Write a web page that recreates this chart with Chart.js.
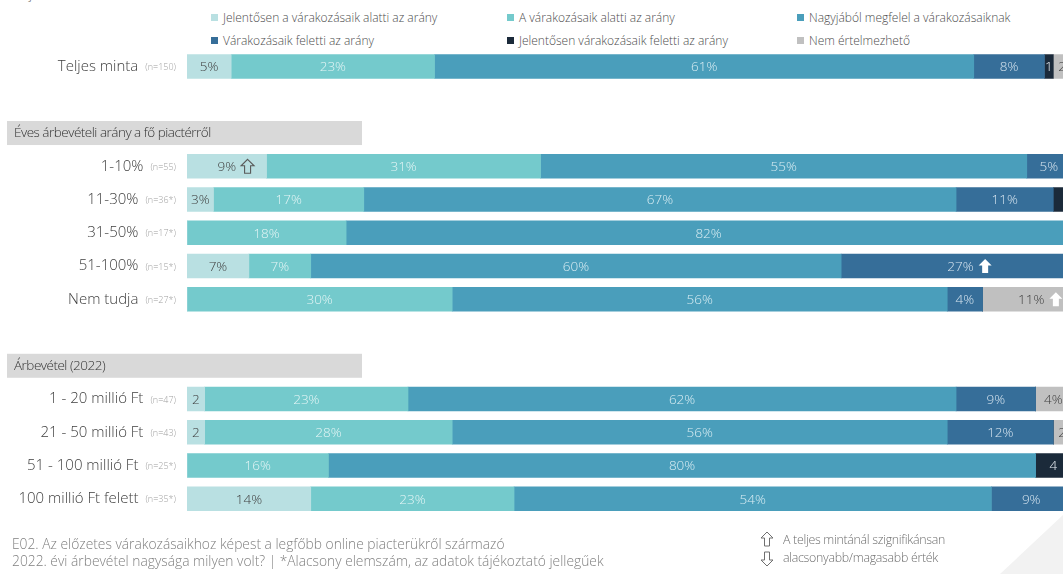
<!DOCTYPE html>
<html lang="hu">
<head>
<meta charset="utf-8">
<script src="https://cdn.jsdelivr.net/npm/chart.js@4/dist/chart.umd.min.js"></script>
<style>
  html, body { margin: 0; padding: 0; background: #fff; }
  body { position: relative; width: 1063px; height: 574px; overflow: hidden; font-family: "Open Sans", sans-serif; font-weight: 300; color: #404040; }
  #chart { position: absolute; left: 0; top: 0; }
  .legend-item { position: absolute; font-size: 12px; color: #4d4d4d; white-space: nowrap; line-height: 16px; transform: translateY(-8px); }
  .legend-item i { display: inline-block; width: 7px; height: 7px; margin-right: 5px; vertical-align: 1px; }
  .cut-title { position: absolute; left: 13px; top: -15px; font-size: 13px; color: #595959; letter-spacing: -0.3px; }
  .note { position: absolute; font-size: 13.8px; color: #808080; white-space: nowrap; line-height: 17px; }
  .sig { position: absolute; left: 760px; top: 531px; font-size: 12.4px; color: #6f6f6f; line-height: 18px; letter-spacing: -0.3px; }
  .sig svg { position: absolute; left: 0; }
  .sig span { display: block; padding-left: 23px; white-space: nowrap; }
  .corner { position: absolute; left: 1000px; top: 515px; width: 63px; height: 59px; background: #f2f2f2; clip-path: polygon(100% 0, 100% 100%, 0 100%); }
</style>
</head>
<body>
<div class="corner"></div>
<div class="cut-title">Teljes minta</div>
<div id="legend"></div>
<canvas id="chart" width="1080" height="574"></canvas>
<div class="note" style="left:12px; top:535px;">E02. Az előzetes várakozásaikhoz képest a legfőbb online piacterükről származó<br>2022. évi árbevétel nagysága milyen volt? | *Alacsony elemszám, az adatok tájékoztató jellegűek</div>
<div class="sig">
  <svg width="14" height="36" viewBox="0 0 14 36">
    <path d="M7 1 L13 7 L9.5 7 L9.5 15 L4.5 15 L4.5 7 L1 7 Z" fill="none" stroke="#6f6f6f" stroke-width="1"/>
    <path d="M7 35 L13 29 L9.5 29 L9.5 21 L4.5 21 L4.5 29 L1 29 Z" fill="none" stroke="#6f6f6f" stroke-width="1"/>
  </svg>
  <span>A teljes mintánál szignifikánsan</span>
  <span>alacsonyabb/magasabb érték</span>
</div>

<script>
// Rows of the chart, top to bottom; empty strings are spacer rows
const categories = ['Teljes minta', '', 'Éves árbevételi arány a fő piactérről',
  '1-10%', '11-30%', '31-50%', '51-100%', 'Nem tudja', '', 'Árbevétel (2022)',
  '1 - 20 millió Ft', '21 - 50 millió Ft', '51 - 100 millió Ft', '100 millió Ft felett'];
const sampleSizes = ['(n=150)', '', '', '(n=55)', '(n=36*)', '(n=17*)', '(n=15*)', '(n=27*)', '', '',
  '(n=47)', '(n=43)', '(n=25*)', '(n=35*)'];
const sectionTitles = ['Éves árbevételi arány a fő piactérről', 'Árbevétel (2022)'];

const seriesNames = ['Jelentősen a várakozásaik alatti az arány', 'A várakozásaik alatti az arány',
  'Nagyjából megfelel a várakozásaiknak', 'Várakozásaik feletti az arány',
  'Jelentősen várakozásaik feletti az arány', 'Nem értelmezhető'];

const jelentosenAlatti  = [5, null, null, 9, 3, 0, 7, 0, null, null, 2, 2, 0, 14];
const alatti            = [23, null, null, 31, 17, 18, 7, 30, null, null, 23, 28, 16, 23];
const megfelel          = [61, null, null, 55, 67, 82, 60, 56, null, null, 62, 56, 80, 54];
const feletti           = [8, null, null, 5, 11, 0, 27, 4, null, null, 9, 12, 0, 9];
const jelentosenFeletti = [1, null, null, 0, 3, 0, 0, 0, null, null, 0, 0, 4, 0];
const nemErtelmezheto   = [2, null, null, 0, 0, 0, 0, 11, null, null, 4, 2, 0, 0];

// significantly higher / lower than the full sample
const sigMarks = [
  { row: '1-10%', series: 0, solid: false },
  { row: '51-100%', series: 3, solid: true },
  { row: 'Nem tudja', series: 5, solid: true },
];

const colors     = ['#b9e0e2', '#74cacc', '#4a9ebb', '#366e99', '#1b2a3a', '#c0c0c0'];
const textColors = ['#404040', '#e4f5f5', '#d9edf3', '#d6e4ef', '#e8eef4', '#404040'];
const values = [jelentosenAlatti, alatti, megfelel, feletti, jelentosenFeletti, nemErtelmezheto];
const FONT = '"Open Sans"';

// legend (three columns, two rows)
const legendCols = [211, 507, 797], legendRows = [18, 41];
document.getElementById('legend').innerHTML = seriesNames.map((name, i) =>
  `<div class="legend-item" style="left:${legendCols[i % 3]}px; top:${legendRows[Math.floor(i / 3)]}px">` +
  `<i style="background:${colors[i]}"></i>${name}</div>`).join('');

function drawArrow(ctx, x, cy, solid) {
  ctx.beginPath();
  ctx.moveTo(x + 6.5, cy - 7);
  ctx.lineTo(x + 13, cy - 0.5);
  ctx.lineTo(x + 9.5, cy - 0.5);
  ctx.lineTo(x + 9.5, cy + 7);
  ctx.lineTo(x + 3.5, cy + 7);
  ctx.lineTo(x + 3.5, cy - 0.5);
  ctx.lineTo(x, cy - 0.5);
  ctx.closePath();
  if (solid) {
    ctx.fillStyle = '#ffffff';
    ctx.fill();
  } else {
    ctx.strokeStyle = '#595959';
    ctx.lineWidth = 1.1;
    ctx.stroke();
  }
}

// ── row labels, section headers and value labels ──────────────────────────
const decorPlugin = {
  id: 'decor',
  afterDatasetsDraw(chart) {
    const { ctx } = chart;
    const yScale = chart.scales.y;
    ctx.save();
    ctx.textBaseline = 'middle';

    categories.forEach((label, i) => {
      if (!label) return;
      const cy = yScale.getPixelForValue(i);
      if (sectionTitles.includes(label)) {
        ctx.fillStyle = '#d9d9d9';
        ctx.fillRect(7, cy - 12, 355, 24);
        ctx.fillStyle = '#333333';
        ctx.font = `300 13.5px ${FONT}`;
        ctx.letterSpacing = '-0.5px';
        ctx.textAlign = 'left';
        ctx.fillText(label, 14, cy);
        ctx.letterSpacing = '0px';
        return;
      }
      ctx.textAlign = 'right';
      ctx.font = `300 9px ${FONT}`;
      ctx.fillStyle = '#a0a0a0';
      ctx.fillText(sampleSizes[i], 176, cy + 1);
      const noteW = ctx.measureText(sampleSizes[i]).width;
      ctx.font = `300 15px ${FONT}`;
      ctx.fillStyle = '#404040';
      ctx.fillText(label, 176 - noteW - 7, cy);
    });

    ctx.font = `300 13.5px ${FONT}`;
    ctx.textAlign = 'center';
    chart.data.datasets.forEach((ds, di) => {
      const meta = chart.getDatasetMeta(di);
      meta.data.forEach((bar, i) => {
        const v = ds.data[i];
        if (!v) return;
        const text = (v > 2 && di !== 4) ? `${v}%` : `${v}`;
        const cx = (bar.x + bar.base) / 2;
        ctx.fillStyle = textColors[di];
        ctx.fillText(text, cx, bar.y + 1);
        const mark = sigMarks.find(m => m.row === categories[i] && m.series === di);
        if (mark) drawArrow(ctx, cx + ctx.measureText(text).width / 2 + 5, bar.y, mark.solid);
      });
    });
    ctx.restore();
  }
};

new Chart(document.getElementById('chart'), {
  type: 'bar',
  data: {
    labels: categories,
    datasets: seriesNames.map((name, i) => ({
      label: name,
      data: values[i],
      backgroundColor: colors[i],
      borderWidth: 0,
      barThickness: 24,
    }))
  },
  options: {
    indexAxis: 'y',
    responsive: false,
    animation: false,
    layout: { padding: { left: 187, right: 9, top: 49.9, bottom: 58.6 } },
    plugins: { legend: { display: false }, tooltip: { enabled: false } },
    scales: {
      x: { stacked: true, min: 0, max: 100, display: false },
      y: { stacked: true, display: false, grid: { display: false } }
    }
  },
  plugins: [decorPlugin]
});
</script>
</body>
</html>
